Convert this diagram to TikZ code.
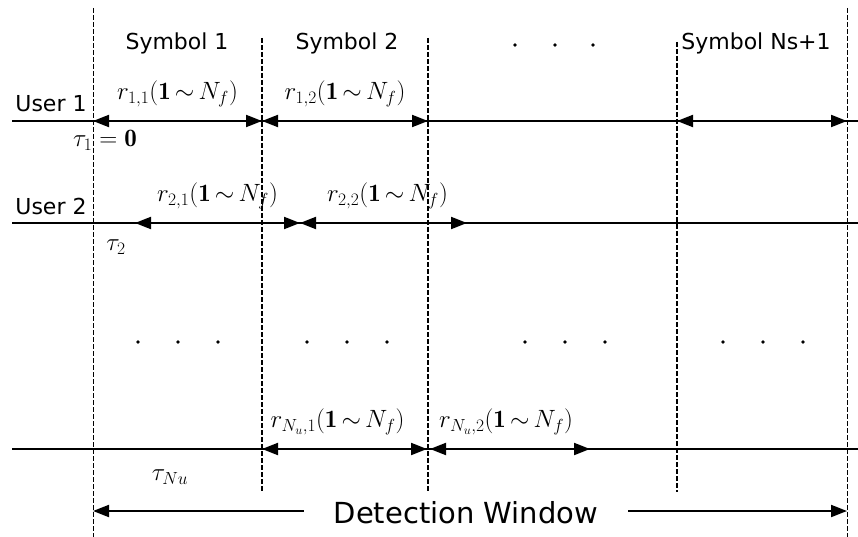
\RequirePackage{fix-cm}
\documentclass[tikz,border=0pt]{standalone}
\usepackage{fontspec}
\setsansfont{DejaVu Sans}
\usetikzlibrary{arrows.meta}

\begin{document}
\begin{tikzpicture}[
    x=1pt, y=-1pt,
    font=\sffamily\fontsize{22}{26}\selectfont,
    >={Triangle[length=16pt,width=12pt]},
    lane/.style={line width=2pt},
    span/.style={<->, line width=2pt},
    oneway/.style={->, line width=2pt},
    outer/.style={line width=1pt, dash pattern=on 5pt off 2pt},
    inner/.style={line width=2pt, dash pattern=on 5pt off 2pt},
    mlbl/.style={font=\fontsize{25}{29}\selectfont, inner sep=2pt},
    tlbl/.style={inner sep=1pt},
  ]
    \useasboundingbox (0,0) rectangle (858,537);
    % symbol boundaries and user rows
    \foreach \n/\x in {s0/93,s1/262,s2/428,s3/677,s4/847} \coordinate (\n) at (\x,0);
    \coordinate (u1) at (12,121);
    \coordinate (u2) at (12,223);
    \coordinate (un) at (12,449);
    \coordinate (dw) at (0,511);
    % dashed boundaries
    \foreach \n in {s0,s4} \draw[outer] (\n |- 0,8) -- (\n |- 0,537);
    \foreach \n/\t in {s1/38,s2/38,s3/42} \draw[inner] (\n |- 0,\t) -- (\n |- 0,492);
    % symbol heads
    \node[tlbl] (sym1) at (177,43) {Symbol 1};
    \node[tlbl] (sym2) at (347,43) {Symbol 2};
    \node[tlbl] (symn) at (756,43) {Symbol Ns+1};
    \foreach \x in {515,555,593} \fill (\x,45) circle (1.8);
    % user lanes
    \foreach \r in {u1,u2,un} \draw[lane] (\r) -- ++(846,0);
    \node[tlbl] (user1) at (51,104) {User 1};
    \node[tlbl] (user2) at (51,206) {User 2};
    % user 1
    \draw[span] (s0 |- u1) -- node[mlbl,above=11pt]{$r_{1,1}(\mathbf{1}\,{\sim}\,N_f)$} (s1 |- u1);
    \draw[span] (s1 |- u1) -- node[mlbl,above=11pt]{$r_{1,2}(\mathbf{1}\,{\sim}\,N_f)$} (s2 |- u1);
    \draw[span] (s3 |- u1) -- (s4 |- u1);
    \node[mlbl] (tau1) at (105,140) {$\tau_1=\mathbf{0}$};
    % user 2 (delayed by tau_2)
    \coordinate (d0) at (135,223);
    \coordinate (d1) at (300,223);
    \coordinate (d2) at (467,223);
    \draw[span] (d0) -- node[mlbl,above=11pt]{$r_{2,1}(\mathbf{1}\,{\sim}\,N_f)$} (d1);
    \draw[span] (d1) -- node[mlbl,above=11pt,xshift=4pt]{$r_{2,2}(\mathbf{1}\,{\sim}\,N_f)$} (d2);
    \node[mlbl] (tau2) at (116,247) {$\tau_2$};
    % dots between users
    \foreach \x in {138,178,218,307,347,387,525,565,605,723,763,803} \fill (\x,342) circle (1.8);
    % user N_u
    \coordinate (e0) at (262,449);
    \coordinate (e1) at (427,449);
    \coordinate (e2) at (430,449);
    \coordinate (e3) at (590,449);
    \draw[span] (e0) -- node[mlbl,above=11pt,xshift=-7pt]{$r_{N_u,1}(\mathbf{1}\,{\sim}\,N_f)$} (e1);
    \draw[span] (e2) -- node[mlbl,above=11pt,xshift=-4pt]{$r_{N_u,2}(\mathbf{1}\,{\sim}\,N_f)$} (e3);
    \node[mlbl] (taun) at (170,477) {$\tau_{Nu}$};
    % detection window
    \node[font=\sffamily\fontsize{29}{34}\selectfont, inner xsep=30pt] (dwin) at (466,513) {Detection Window};
    \draw[oneway] (dwin.west |- dw) -- (s0 |- dw);
    \draw[oneway] (dwin.east |- dw) -- (s4 |- dw);
  \end{tikzpicture}
\end{document}
